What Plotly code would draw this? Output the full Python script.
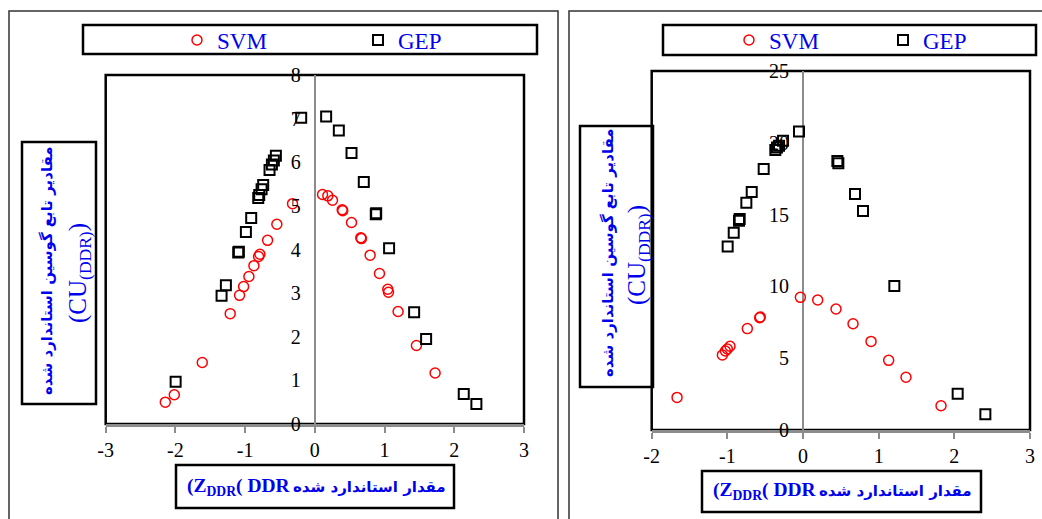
import plotly.graph_objects as go

# ---- data: standardized DDR (Z) vs. standardized Gaussian function values (CU) ----
svm_left_x = [-2.145, -2.016, -1.615, -1.214, -1.080, -1.022, -0.946, -0.874, -0.807, -0.788,
              -0.678, -0.545, -0.320, 0.110, 0.186, 0.253, 0.392, 0.400, 0.526, 0.659,
              0.668, 0.793, 0.927, 1.046, 1.056, 1.194, 1.457, 1.725]
svm_left_y = [0.50, 0.67, 1.41, 2.53, 2.95, 3.15, 3.38, 3.63, 3.84, 3.89,
              4.21, 4.58, 5.05, 5.26, 5.23, 5.13, 4.91, 4.89, 4.62, 4.27,
              4.25, 3.87, 3.45, 3.09, 3.02, 2.58, 1.80, 1.17]
gep_left_x = [-1.997, -1.338, -1.276, -1.099, -1.090, -0.989, -0.913, -0.812, -0.798, -0.764,
              -0.741, -0.650, -0.616, -0.588, -0.559, -0.196, 0.162, 0.344, 0.526, 0.702,
              0.874, 0.880, 1.065, 1.424, 1.596, 2.136, 2.317]
gep_left_y = [0.97, 2.94, 3.18, 3.93, 3.95, 4.40, 4.72, 5.18, 5.25, 5.38,
              5.48, 5.82, 5.95, 6.04, 6.15, 7.02, 7.05, 6.73, 6.21, 5.55,
              4.81, 4.83, 4.03, 2.56, 1.95, 0.69, 0.46]

svm_right_x = [-1.665, -1.066, -1.026, -1.000, -0.965, -0.736, -0.573, -0.565, -0.035, 0.194,
               0.436, 0.661, 0.899, 1.132, 1.361, 1.824]
svm_right_y = [2.27, 5.22, 5.50, 5.64, 5.83, 7.06, 7.82, 7.87, 9.24, 9.05,
               8.43, 7.40, 6.17, 4.85, 3.67, 1.69]
gep_right_x = [-0.996, -0.916, -0.846, -0.837, -0.749, -0.678, -0.520, -0.366, -0.344, -0.317,
               -0.264, -0.053, 0.454, 0.467, 0.687, 0.793, 1.207, 2.044, 2.410]
gep_right_y = [12.77, 13.74, 14.58, 14.69, 15.83, 16.57, 18.17, 19.50, 19.68, 19.80,
               20.15, 20.78, 18.73, 18.57, 16.43, 15.25, 10.03, 2.53, 1.09]

series_names = ["SVM", "GEP"]
x_ticks_left = [-3, -2, -1, 0, 1, 2, 3]
x_ticks_right = [-2, -1, 0, 1, 2, 3]
y_ticks_left = [0, 1, 2, 3, 4, 5, 6, 7, 8]
y_ticks_right = [0, 5, 10, 15, 20, 25]
x_range_left, y_range_left = [-3, 3], [0, 8]
x_range_right, y_range_right = [-2, 3], [0, 25]

x_title_latin = "(Z<sub>DDR</sub>( DDR"
x_title_fa = "مقدار استاندارد شده"
y_title_fa = "مقادیر تابع گوسین استاندارد شده"
y_title_en = "(CU<sub>(DDR)</sub>)"

# ---- page geometry (pixels) ----
W, H = 1042, 519
BLUE = "#0000ee"
SERIF = "Liberation Serif, Times New Roman, serif"
ARABIC = "DejaVu Sans, Noto Sans, sans-serif"


def fx(px):
    return px / W


def fy(py):
    return 1 - py / H


left_area = (105.7, 75, 524, 424)
right_area = (651.7, 71, 1030, 430)


def zero_pos(area, xr):
    x0, _, x1, _ = area
    return fx(x0 + (0 - xr[0]) / (xr[1] - xr[0]) * (x1 - x0))


def tick_text(vals):
    # plain hyphen-minus for negative ticks
    return [str(v) for v in vals]


fig = go.Figure()

svm_marker = dict(symbol="circle-open", size=10, color="#ff0000", line=dict(width=1.5))
gep_marker = dict(symbol="square-open", size=10, color="#000000", line=dict(width=2))

fig.add_trace(go.Scatter(x=svm_left_x, y=svm_left_y, mode="markers", name=series_names[0],
                         marker=svm_marker, xaxis="x", yaxis="y", legend="legend"))
fig.add_trace(go.Scatter(x=gep_left_x, y=gep_left_y, mode="markers", name=series_names[1],
                         marker=gep_marker, xaxis="x", yaxis="y", legend="legend"))
fig.add_trace(go.Scatter(x=svm_right_x, y=svm_right_y, mode="markers", name=series_names[0],
                         marker=svm_marker, xaxis="x2", yaxis="y2", legend="legend2"))
fig.add_trace(go.Scatter(x=gep_right_x, y=gep_right_y, mode="markers", name=series_names[1],
                         marker=gep_marker, xaxis="x2", yaxis="y2", legend="legend2"))

tick_font = dict(family=SERIF, size=20, color="#000")


def xaxis_cfg(area, xr, ticks, anchor):
    return dict(domain=[fx(area[0]), fx(area[2])], range=xr, anchor=anchor,
                tickmode="array", tickvals=ticks, ticktext=tick_text(ticks),
                showgrid=False, zeroline=True, zerolinecolor="#8c8c8c", zerolinewidth=1.5,
                showline=True, linecolor="#8c8c8c", linewidth=2.5,
                ticks="outside", ticklen=6, tickwidth=1.5, tickcolor="#8c8c8c",
                tickfont=tick_font, fixedrange=True, automargin=False)


def yaxis_cfg(area, xr, yr, ticks):
    return dict(domain=[fy(area[3]), fy(area[1])], range=yr,
                tickmode="array", tickvals=ticks, ticktext=tick_text(ticks),
                anchor="free", position=zero_pos(area, xr),
                showgrid=False, zeroline=False, showline=False, ticks="",
                ticklabelstandoff=14, tickfont=tick_font, fixedrange=True, automargin=False)


legend_common = dict(orientation="h", bgcolor="rgba(0,0,0,0)", borderwidth=0,
                     font=dict(family=SERIF, size=23, color=BLUE),
                     xanchor="left", yanchor="middle", traceorder="normal",
                     itemclick=False, itemdoubleclick=False)

fig.update_layout(
    width=W, height=H, margin=dict(l=0, r=0, t=0, b=0, autoexpand=False),
    paper_bgcolor="white", plot_bgcolor="white",
    xaxis=xaxis_cfg(left_area, x_range_left, x_ticks_left, "y"),
    yaxis=yaxis_cfg(left_area, x_range_left, y_range_left, y_ticks_left),
    xaxis2=xaxis_cfg(right_area, x_range_right, x_ticks_right, "y2"),
    yaxis2=yaxis_cfg(right_area, x_range_right, y_range_right, y_ticks_right),
    legend=dict(legend_common, x=fx(177), y=fy(40), entrywidth=136),
    legend2=dict(legend_common, x=fx(729), y=fy(40), entrywidth=109),
)

shapes = []


def rect(x0, y0, x1, y1, width=2, color="#000", layer="above"):
    shapes.append(dict(type="rect", xref="paper", yref="paper",
                       x0=fx(x0), x1=fx(x1), y0=fy(y1), y1=fy(y0), layer=layer,
                       line=dict(color=color, width=width), fillcolor="rgba(0,0,0,0)"))


# outer panel frames
rect(9, 11, 558, 540, width=1.5, color="#333")
rect(569, 11, 1060, 540, width=1.5, color="#333")
# plot-area frames (under the grey x-axis line)
rect(*left_area, width=2.5, layer="below")
rect(*right_area, width=2.5, layer="below")
# legend boxes
rect(83, 25, 537, 54, width=2.5)
rect(663, 25, 1036, 55, width=2.5)
# axis-title boxes
rect(22, 142, 96, 404, width=2.5)
rect(580, 126, 653, 387, width=2.5)
rect(176, 465, 454, 508, width=2.5)
rect(702, 471, 981, 512, width=2.5)
fig.update_layout(shapes=shapes)

annotations = []


def label(text, x, y, size, family, angle=0, bold=True, xanchor="center"):
    t = f"<b>{text}</b>" if bold else text
    annotations.append(dict(text=t, x=fx(x), y=fy(y), xref="paper", yref="paper",
                            xanchor=xanchor, yanchor="middle", showarrow=False,
                            textangle=angle, font=dict(family=family, size=size, color=BLUE)))


# y-axis titles (rotated, two lines)
label(y_title_fa, 47, 271, 15, ARABIC, angle=-90)
label(y_title_en, 79, 273, 25, SERIF, angle=-90, bold=False)
label(y_title_fa, 608, 253, 15, ARABIC, angle=-90)
label(y_title_en, 638, 255, 25, SERIF, angle=-90, bold=False)
# x-axis titles: Latin part on the left, Persian part on the right
label(x_title_latin, 185, 487, 19.5, SERIF, xanchor="left")
label(x_title_fa, 448, 487, 15, ARABIC, xanchor="right")
label(x_title_latin, 711, 491, 19.5, SERIF, xanchor="left")
label(x_title_fa, 974, 491, 15, ARABIC, xanchor="right")
fig.update_layout(annotations=annotations)

fig.write_html("out.html")
